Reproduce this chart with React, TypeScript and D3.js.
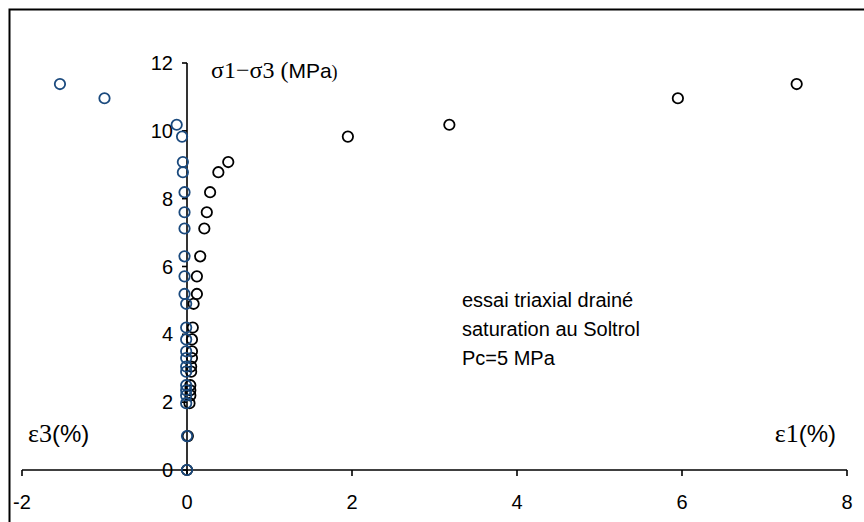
import React from "react";
import * as d3 from "d3";

// Deviatoric stress levels (MPa) and the matching axial / lateral strains (%)
const stress = [11.38, 10.96, 10.18, 9.83, 9.08, 8.78, 8.19, 7.6, 7.12, 6.3, 5.71, 5.19, 4.9, 4.2, 3.85, 3.5, 3.3, 3.05, 2.9, 2.5, 2.35, 2.2, 1.97, 1.0, 0];
const eps1 = [7.39, 5.95, 3.18, 1.95, 0.5, 0.38, 0.28, 0.24, 0.21, 0.16, 0.12, 0.12, 0.08, 0.07, 0.06, 0.06, 0.06, 0.05, 0.05, 0.04, 0.04, 0.04, 0.03, 0.01, 0];
const eps3 = [-1.54, -1.0, -0.125, -0.06, -0.05, -0.05, -0.03, -0.03, -0.03, -0.03, -0.03, -0.03, -0.01, -0.01, -0.01, -0.01, -0.01, -0.01, -0.01, -0.01, -0.01, -0.01, -0.01, 0, 0];

const xTicks = [-2, 0, 2, 4, 6, 8];
const yTicks = [0, 2, 4, 6, 8, 10, 12];
const noteLines = ["essai triaxial drainé", "saturation au Soltrol", "Pc=5 MPa"];

const W = 864;
const H = 522;
const SANS = "Arial, 'Liberation Sans', sans-serif";
const SERIF = "'Times New Roman', 'Liberation Serif', serif";

export default function App() {
  const x = d3.scaleLinear().domain([-2, 8]).range([22, 847]);
  const y = d3.scaleLinear().domain([0, 12]).range([470, 63]);
  const x0 = x(0);
  const y0 = y(0);

  const axialPts = stress.map((s, i) => ({ x: eps1[i], y: s }));
  const lateralPts = stress.map((s, i) => ({ x: eps3[i], y: s }));

  return (
    <svg
      width={W}
      height={H}
      style={{ position: "fixed", left: 0, top: 0, background: "#fff" }}
    >
      <rect x={0} y={0} width={W} height={H} fill="#fff" />
      {/* chart frame */}
      <rect x={9.5} y={9.5} width={W + 20} height={H + 20} fill="none" stroke="#000" strokeWidth={2} />

      {/* horizontal axis */}
      <line x1={x(-2)} x2={x(8)} y1={y0} y2={y0} stroke="#000" strokeWidth={1.6} />
      {xTicks.map((t) => (
        <g key={"xt" + t}>
          <line x1={x(t)} x2={x(t)} y1={y0} y2={y0 + 6} stroke="#000" strokeWidth={1.6} />
          <text x={x(t)} y={509} textAnchor="middle" fontFamily={SANS} fontSize={20} fill="#000">
            {t}
          </text>
        </g>
      ))}

      {/* vertical axis */}
      <line x1={x0} x2={x0} y1={y(12)} y2={y0 + 6} stroke="#000" strokeWidth={1.6} />
      {yTicks.map((t) => (
        <g key={"yt" + t}>
          <line x1={x0 - 5} x2={x0} y1={y(t)} y2={y(t)} stroke="#000" strokeWidth={1.6} />
          <text x={173} y={y(t) + 7} textAnchor="end" fontFamily={SANS} fontSize={20} fill="#000">
            {t}
          </text>
        </g>
      ))}

      {/* axis titles */}
      <text x={211} y={78} fill="#000">
        <tspan fontFamily={SERIF} fontSize={24}>σ1−σ3 (</tspan>
        <tspan fontFamily={SANS} fontSize={21}>MPa</tspan>
        <tspan fontFamily={SERIF} fontSize={18}>)</tspan>
      </text>
      <text x={28} y={442} fill="#000">
        <tspan fontFamily={SERIF} fontSize={26}>ε3</tspan>
        <tspan fontFamily={SANS} fontSize={24}>(%)</tspan>
      </text>
      <text x={836} y={442} textAnchor="end" fill="#000">
        <tspan fontFamily={SERIF} fontSize={26}>ε1</tspan>
        <tspan fontFamily={SANS} fontSize={24}>(%)</tspan>
      </text>

      {/* test conditions */}
      {noteLines.map((line, i) => (
        <text key={line} x={462} y={307 + i * 29} fontFamily={SANS} fontSize={20} fill="#000">
          {line}
        </text>
      ))}

      {/* axial strain series */}
      {axialPts.map((p, i) => (
        <circle key={"a" + i} cx={x(p.x)} cy={y(p.y)} r={5.2} fill="none" stroke="#000" strokeWidth={1.8} />
      ))}
      {/* lateral strain series */}
      {lateralPts.map((p, i) => (
        <circle key={"l" + i} cx={x(p.x)} cy={y(p.y)} r={5.2} fill="none" stroke="#1b4a7e" strokeWidth={1.8} />
      ))}
    </svg>
  );
}
